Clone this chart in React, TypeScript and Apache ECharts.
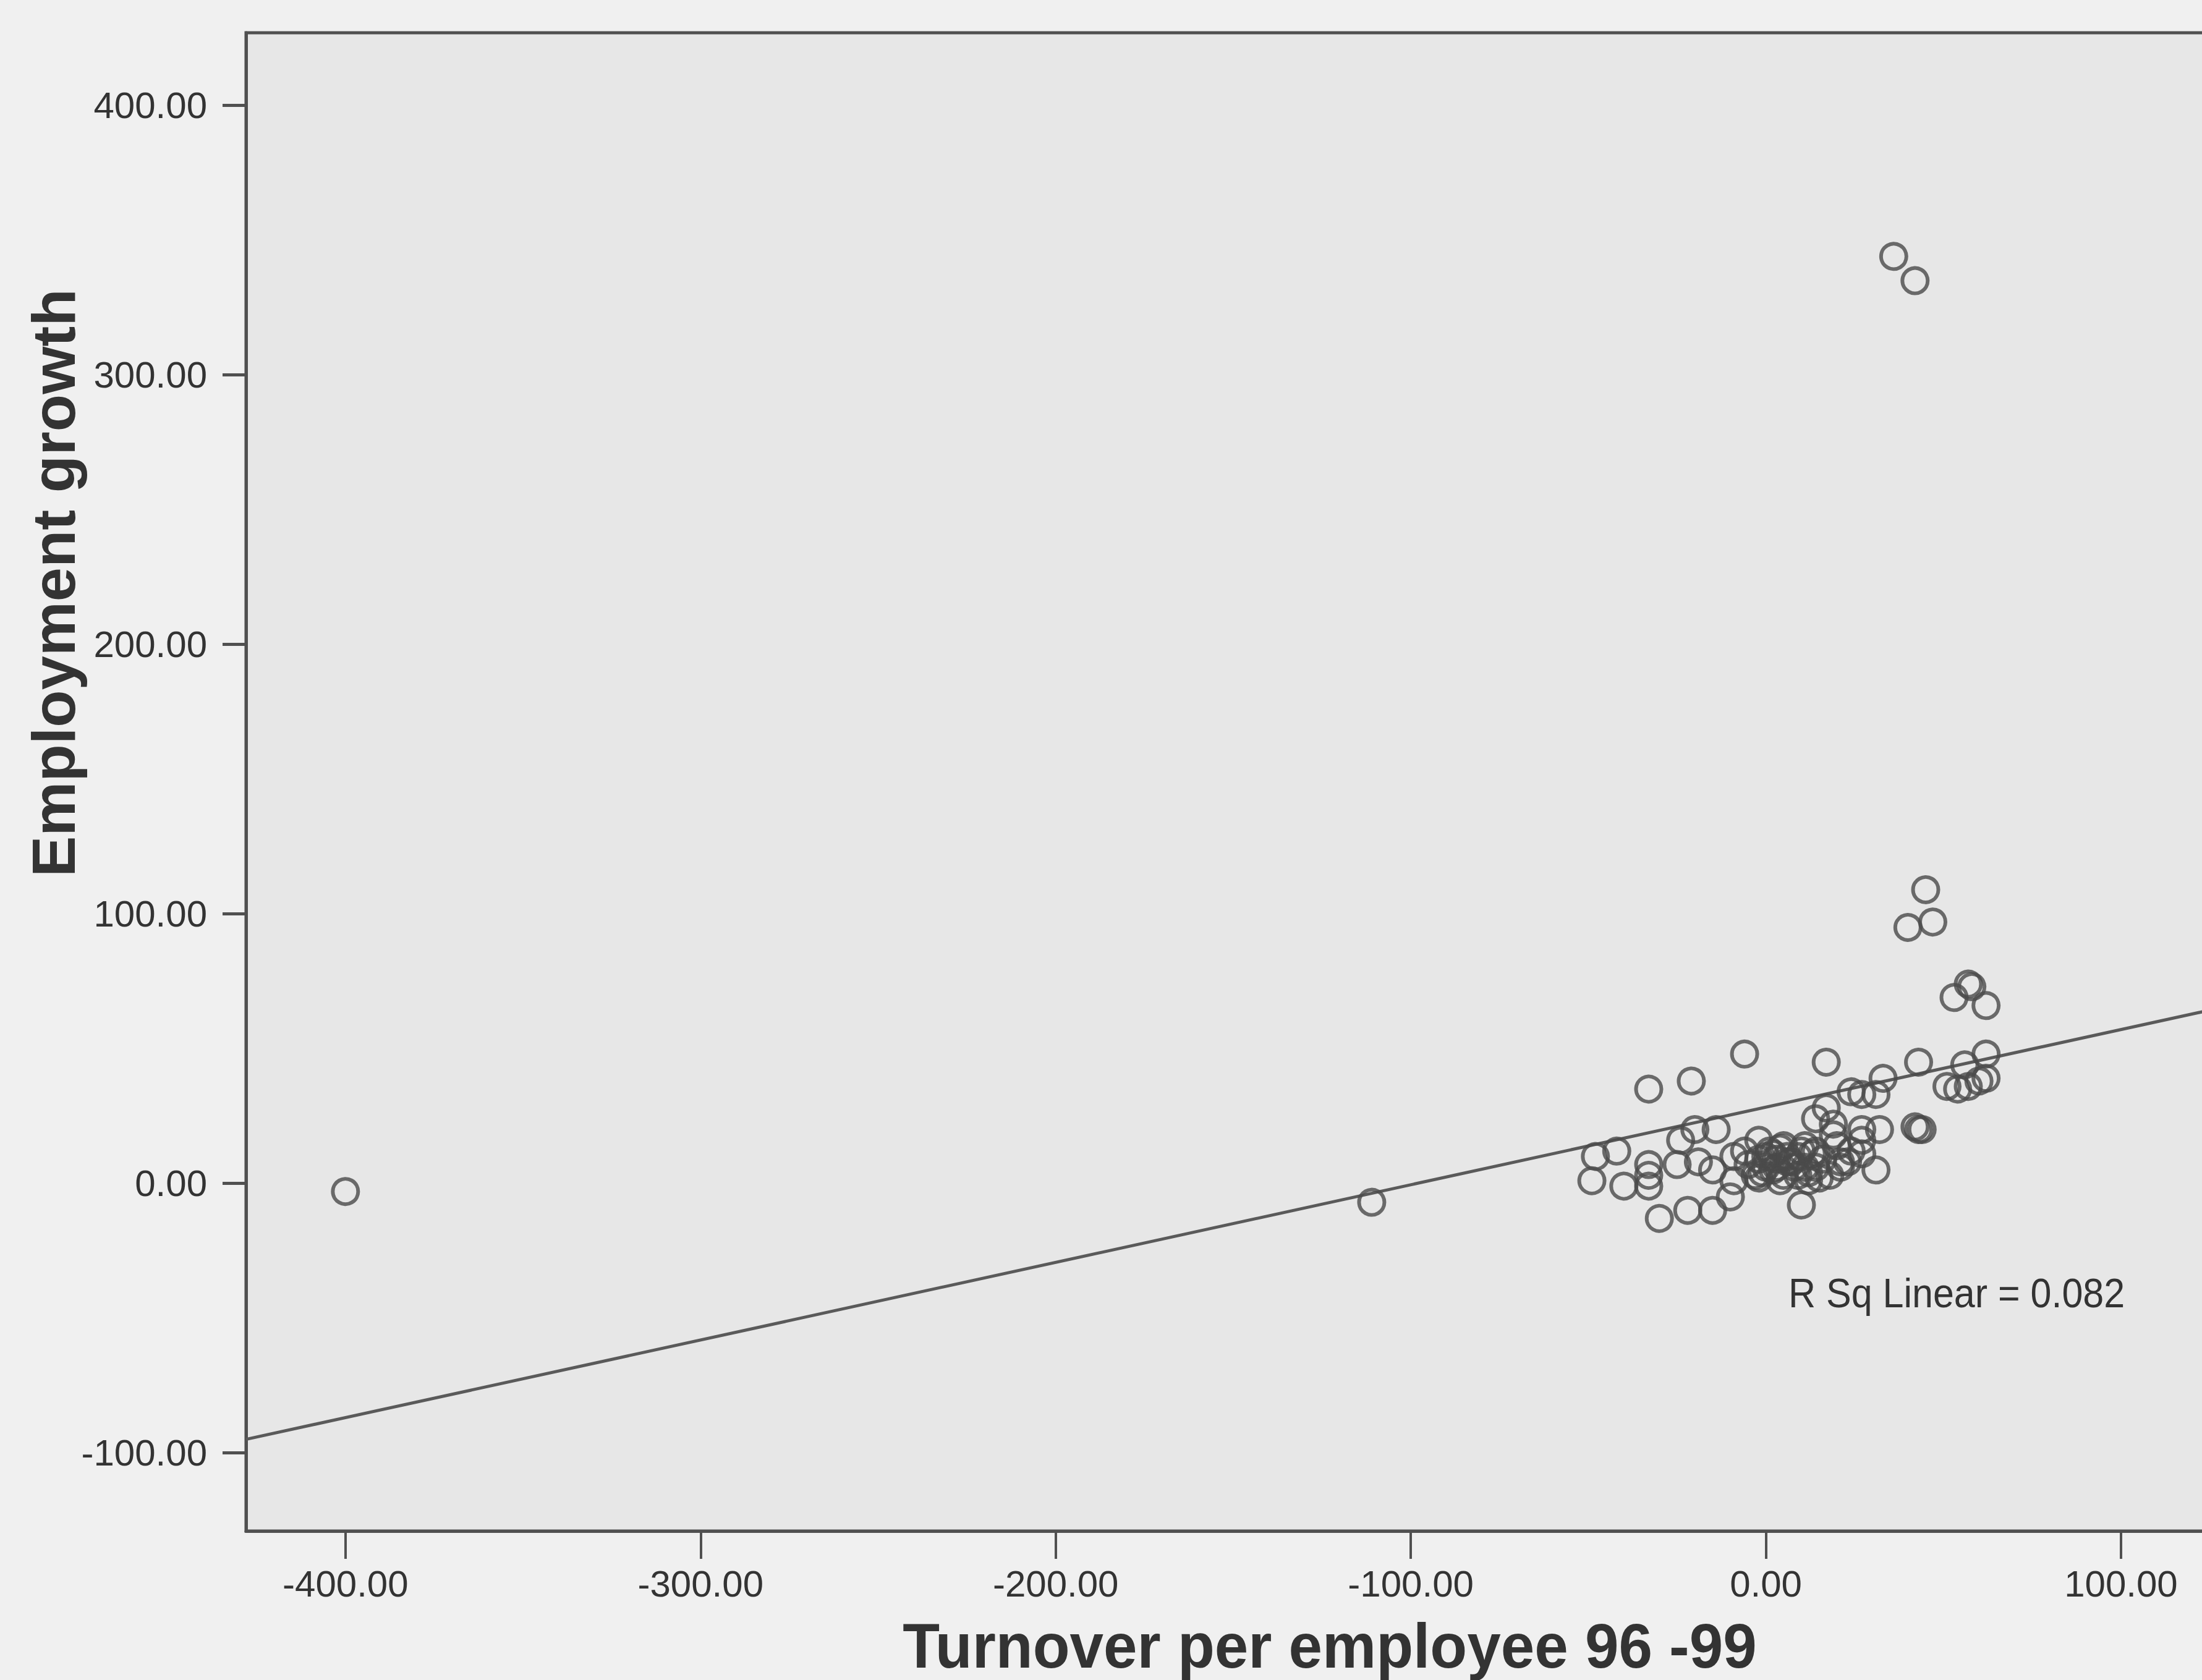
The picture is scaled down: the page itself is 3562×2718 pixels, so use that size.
import React, { useEffect, useRef } from "react";
import * as echarts from "echarts";

// Turnover per employee 96-99 (x) against employment growth (y), one firm per point.
const turnoverPerEmployee = [
  -400, -111, 36, 42,
  45, 40, 47, 57, 58, 53, 62,
  -6, 17, 43, 56, 62, -21, -33, 33, 51, 54, 57, 60, 62, 24, 27, 31, 17, 14, 19,
  27, 32, 42, 43, 44, 19, 27, 10, 13, 6, 11, 21, 27, 18, 31, 10, 20, 21,
  -42, -48, -49, -40, -33, -33, -33, -30, -22, -15, -10, -24, -20, -14, -25, -19,
  -15, -9, -9, -2, -2, -3, 2, 3,
  0, -2, 5, 9, 11, 12, 14, 4, 6, 8, 5, 2, 1, 9, 14, 15, 7, 3, 0, -5, -6, 16, 12, 4, -1, 24, 23,
];
const employmentGrowth = [
  -3, -7, 344, 335,
  109, 95, 97, 74, 73, 69, 66,
  48, 45, 45, 44, 48, 38, 35, 39, 36, 35, 36, 38, 39, 34, 33, 33, 28, 24, 22,
  20, 20, 21, 20, 20, 18, 16, 12, 11, 8, 6, 8, 11, 3, 5, -8, 14, 6,
  12, 10, 1, -1, 7, 3, -1, -13, -10, -10, -5, 16, 20, 20, 7, 8,
  5, 10, 1, 16, 9, 3, 11, 6,
  6, 2, 14, 10, 14, 4, 12, 13, 10, 6, 3, 5, 12, 3, 6, 2, 8, 9, 10, 7, 12, 9, 1, 1, 4, 12, 8,
];

// Linear fit drawn across the plot, and its reported fit statistic.
const fitSlope = 0.288;
const fitIntercept = 28.3;
const rSqLabel = "R Sq Linear = 0.082";

const xTicks = [-400, -300, -200, -100, 0, 100];
const yTicks = [-100, 0, 100, 200, 300, 400];

const X_MIN = -428;
const X_MAX = 182;
const Y_MIN = -129;
const Y_MAX = 427;

// The plot frame runs on past the right edge of the page, so the chart is wider than the view.
const CHART_W = 3902;
const CHART_H = 2718;

const FONT = "'Liberation Sans', Arial, Helvetica, sans-serif";
const INK = "#333333";
const FRAME = "#505050";

export default function App() {
  const ref = useRef<HTMLDivElement>(null);

  useEffect(() => {
    if (!ref.current) return;
    const prevOverflow = document.body.style.overflow;
    document.body.style.overflow = "hidden";
    const chart = echarts.init(ref.current, undefined, { renderer: "svg" });

    const points = turnoverPerEmployee.map((x, i) => [x, employmentGrowth[i]]);
    const fitLine = [
      [X_MIN, fitIntercept + fitSlope * X_MIN],
      [X_MAX, fitIntercept + fitSlope * X_MAX],
    ];

    chart.setOption({
      animation: false,
      backgroundColor: "#f0f0f0",
      grid: {
        left: 398,
        top: 53,
        bottom: 241,
        right: 0,
        show: true,
        backgroundColor: "#e7e7e7",
        borderColor: FRAME,
        borderWidth: 5,
      },
      xAxis: {
        type: "value",
        min: X_MIN,
        max: X_MAX,
        axisLine: { show: true, onZero: false, lineStyle: { color: FRAME, width: 5 } },
        axisTick: {
          show: true,
          customValues: xTicks,
          length: 45,
          lineStyle: { color: FRAME, width: 4 },
        },
        axisLabel: {
          customValues: xTicks,
          formatter: (v: number) => v.toFixed(2),
          fontFamily: FONT,
          fontSize: 60,
          color: INK,
          margin: 55,
        },
        splitLine: { show: false },
      },
      yAxis: {
        type: "value",
        min: Y_MIN,
        max: Y_MAX,
        axisLine: { show: true, onZero: false, lineStyle: { color: FRAME, width: 5 } },
        axisTick: {
          show: true,
          customValues: yTicks,
          length: 38,
          lineStyle: { color: FRAME, width: 5 },
        },
        axisLabel: {
          customValues: yTicks,
          formatter: (v: number) => v.toFixed(2),
          fontFamily: FONT,
          fontSize: 60,
          color: INK,
          margin: 63,
        },
        splitLine: { show: false },
      },
      series: [
        {
          type: "line",
          data: fitLine,
          showSymbol: false,
          lineStyle: { color: "#5a5a5a", width: 5 },
          z: 2,
        },
        {
          type: "scatter",
          data: points,
          symbol: "circle",
          symbolSize: 41,
          itemStyle: {
            color: "rgba(0,0,0,0)",
            borderColor: "#4a4a4a",
            borderWidth: 6,
          },
          z: 3,
        },
      ],
      graphic: [
        {
          type: "text",
          x: 86,
          y: 943,
          rotation: Math.PI / 2,
          style: {
            text: "Employment growth",
            font: `bold 99px ${FONT}`,
            fill: INK,
            textAlign: "center",
            textVerticalAlign: "middle",
          },
        },
        {
          type: "text",
          x: 2151,
          y: 2662,
          scaleY: 1.04,
          style: {
            text: "Turnover per employee 96 -99",
            font: `bold 98px ${FONT}`,
            fill: INK,
            textAlign: "center",
            textVerticalAlign: "middle",
          },
        },
        {
          type: "text",
          x: 2893,
          y: 2092,
          scaleY: 1.1,
          style: {
            text: rSqLabel,
            font: `61px ${FONT}`,
            fill: INK,
            textAlign: "left",
            textVerticalAlign: "middle",
          },
        },
      ],
    });

    return () => {
      chart.dispose();
      document.body.style.overflow = prevOverflow;
    };
  }, []);

  return (
    <div
      ref={ref}
      style={{ position: "fixed", left: 0, top: 0, width: CHART_W, height: CHART_H }}
    />
  );
}
